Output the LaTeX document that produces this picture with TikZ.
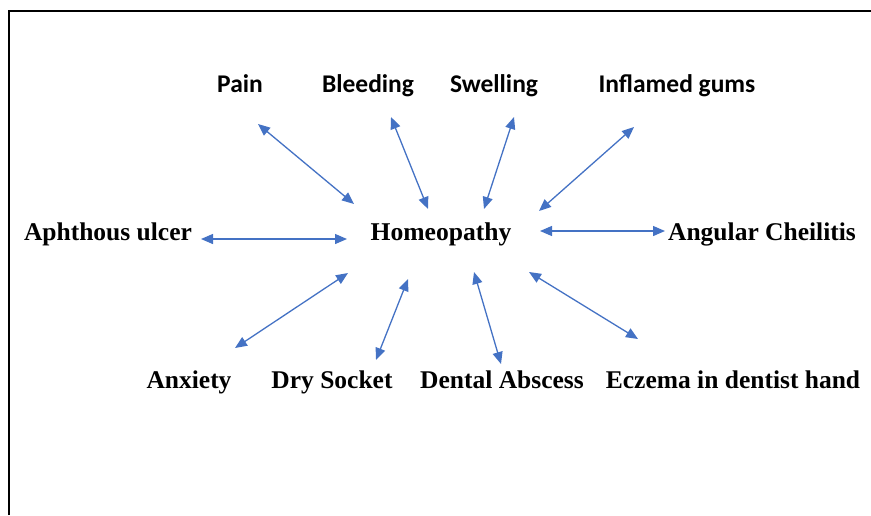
\documentclass[tikz,border=0pt]{standalone}
\usepackage{fontspec}
\setmainfont{Liberation Serif}
\newfontfamily\calibri{Carlito}
\usetikzlibrary{arrows.meta}
\definecolor{arrowblue}{RGB}{68,114,196}

\begin{document}
\begin{tikzpicture}[
    x=0.5pt, y=-0.5pt,
    >={Triangle[length=6pt, width=5pt]},
    every node/.style={inner sep=0pt, anchor=base},
    term/.style={font=\bfseries\fontsize{12.75}{14}\selectfont},
    symptom/.style={font=\calibri\bfseries\fontsize{12.75}{14}\selectfont},
    hub/.style={font=\bfseries\fontsize{12.8}{14}\selectfont},
    link/.style={<->, draw=arrowblue, line width=0.65pt}
]
\useasboundingbox (0,0) rectangle (871,515);
\draw[line width=1pt] (9,515) -- (9,11) -- (871,11);

\node[hub] (hom) at (441,240) {Homeopathy};
% top row
\node[symptom] (pain) at (240,92) {Pain};
\node[symptom] (bleed) at (368,92) {Bleeding};
\node[symptom] (swell) at (494,92) {Swelling};
\node[symptom] (gums) at (677,92) {Inflamed gums};
% middle row
\node[term] (aphth) at (108,240) {Aphthous ulcer};
\node[term] (angular) at (762,240) {Angular Cheilitis};
% bottom row
\node[term] (anx) at (189,388) {Anxiety};
\node[term] (dry) at (332,388) {Dry Socket};
\node[term] (absc) at (502,388) {Dental Abscess};
\node[term] (eczema) at (733,388) {Eczema in dentist hand};

\draw[link] ([shift={(18,32)}]pain.base) -- ([shift={(-87,-36)}]hom.base);
\draw[link] ([shift={(23,25)}]bleed.base) -- ([shift={(-13,-31)}]hom.base);
\draw[link] ([shift={(20,25)}]swell.base) -- ([shift={(43,-31)}]hom.base);
\draw[link] ([shift={(-43,35)}]gums.base) -- ([shift={(98,-29)}]hom.base);
\draw[link] ([shift={(93,-1)}]aphth.base) -- ([shift={(-94,-1)}]hom.base);
\draw[link] ([shift={(99,-9)}]hom.base) -- ([shift={(-97,-9)}]angular.base);
\draw[link] ([shift={(46,-40)}]anx.base) -- ([shift={(-93,33)}]hom.base);
\draw[link] ([shift={(44,-28)}]dry.base) -- ([shift={(-33,39)}]hom.base);
\draw[link] ([shift={(-1,-24)}]absc.base) -- ([shift={(33,32)}]hom.base);
\draw[link] ([shift={(-95,-49)}]eczema.base) -- ([shift={(88,32)}]hom.base);
\end{tikzpicture}
\end{document}
